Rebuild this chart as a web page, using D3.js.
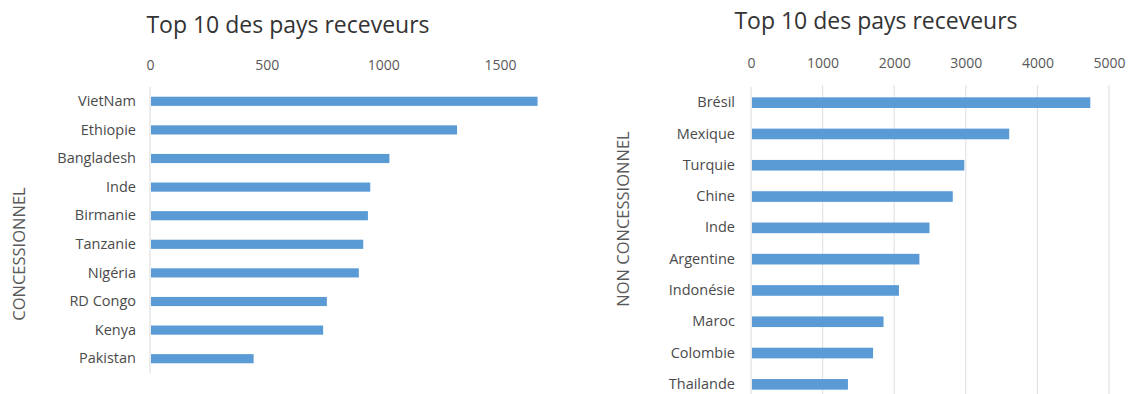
<!DOCTYPE html>
<html>
<head>
<meta charset="utf-8">
<script src="https://cdn.jsdelivr.net/npm/d3@7"></script>
<style>
  body { margin: 0; background: #fff; }
  svg { display: block; }
  text { font-family: "Open Sans", sans-serif; }
</style>
</head>
<body>
<div id="plot"></div>
<script>
const chartTitle = 'Top 10 des pays receveurs';

const concCountries = ['VietNam', 'Ethiopie', 'Bangladesh', 'Inde', 'Birmanie',
  'Tanzanie', 'Nigéria', 'RD Congo', 'Kenya', 'Pakistan'];
const concValues = [1661, 1316, 1026, 944, 934, 914, 895, 758, 742, 444];
const concTicks = [0, 500, 1000, 1500];

const nonConcCountries = ['Brésil', 'Mexique', 'Turquie', 'Chine', 'Inde',
  'Argentine', 'Indonésie', 'Maroc', 'Colombie', 'Thailande'];
const nonConcValues = [4739, 3606, 2979, 2818, 2493, 2352, 2066, 1851, 1705, 1354];
const nonConcTicks = [0, 1000, 2000, 3000, 4000, 5000];

const width = 1133;
const height = 394;
const barColor = '#5b9bd5';
const textColor = '#595959';

const svg = d3.select('#plot').append('svg')
    .attr('width', width)
    .attr('height', height);

function drawPanel(opts) {
  const g = svg.append('g');

  const x = d3.scaleLinear()
      .domain([0, opts.ticks[opts.ticks.length - 1]])
      .range([opts.x0, opts.x1]);

  const y = d3.scaleBand()
      .domain(opts.cats)
      .range([opts.y0, opts.y1])
      .paddingInner(opts.pad)
      .paddingOuter(opts.pad / 2);

  // gridlines (right panel only)
  if (opts.grid) {
    g.selectAll('.grid')
        .data(opts.ticks.slice(1))
        .enter()
        .append('line')
        .attr('x1', d => x(d))
        .attr('x2', d => x(d))
        .attr('y1', opts.y0 - 2)
        .attr('y2', height)
        .attr('stroke', '#e3e3e3')
        .attr('stroke-width', 1.2);
  }

  // zero axis line
  g.append('line')
      .attr('x1', x(0)).attr('x2', x(0))
      .attr('y1', opts.y0).attr('y2', Math.min(opts.y1, height))
      .attr('stroke', '#e0e0e0')
      .attr('stroke-width', 1.2);

  const xAxis = d3.axisTop(x)
      .tickValues(opts.ticks)
      .tickFormat(d3.format('d'))
      .tickSize(0)
      .tickPadding(0);
  const ax = g.append('g')
      .attr('transform', `translate(0,${opts.tickY})`)
      .call(xAxis);
  ax.select('.domain').remove();
  ax.selectAll('text')
      .attr('fill', textColor)
      .attr('dy', '0.35em')
      .style('font-size', '14px');

  g.selectAll('.bar')
      .data(opts.cats)
      .enter()
      .append('rect')
      .attr('x', x(0) + 1)
      .attr('y', d => y(d))
      .attr('width', (d, i) => x(opts.values[i]) - x(0) - 1)
      .attr('height', y.bandwidth())
      .attr('fill', barColor);

  const yAxis = d3.axisLeft(y).tickSize(0).tickPadding(0);
  const ay = g.append('g')
      .attr('transform', `translate(${opts.labelX},0)`)
      .call(yAxis);
  ay.select('.domain').remove();
  ay.selectAll('text')
      .attr('fill', '#4a4a4a')
      .style('font-size', '14.5px');

  g.append('text')
      .attr('x', opts.titleX)
      .attr('y', opts.titleY)
      .attr('text-anchor', 'middle')
      .attr('fill', '#333')
      .style('font-size', '23px')
      .text(chartTitle);

  g.append('text')
      .attr('transform', `translate(${opts.axisTitleX},${opts.axisTitleY}) rotate(-90)`)
      .attr('text-anchor', 'middle')
      .attr('dy', '0.35em')
      .attr('fill', textColor)
      .style('font-size', '16.5px')
      .text(opts.axisTitle);
}

drawPanel({
  cats: concCountries,
  values: concValues,
  ticks: concTicks,
  x0: 150, x1: 500,
  y0: 87, y1: 373, pad: 0.68,
  tickY: 65,
  labelX: 136,
  grid: false,
  titleX: 288, titleY: 33,
  axisTitle: 'CONCESSIONNEL',
  axisTitleX: 19, axisTitleY: 254
});

drawPanel({
  cats: nonConcCountries,
  values: nonConcValues,
  ticks: nonConcTicks,
  x0: 751, x1: 1109,
  y0: 87, y1: 400, pad: 0.66,
  tickY: 63,
  labelX: 735,
  grid: true,
  titleX: 876, titleY: 29,
  axisTitle: 'NON CONCESSIONNEL',
  axisTitleX: 623, axisTitleY: 219
});
</script>
</body>
</html>
